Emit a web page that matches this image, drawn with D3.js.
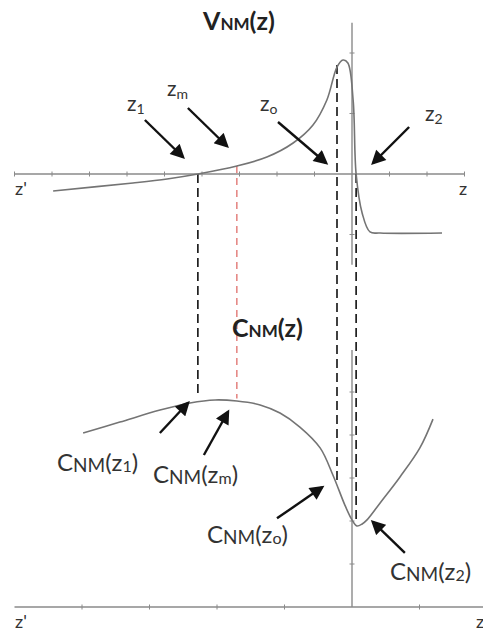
<!DOCTYPE html>
<html>
<head>
<meta charset="utf-8">
<script src="https://cdn.jsdelivr.net/npm/d3@7"></script>
<style>
  html, body { margin: 0; padding: 0; background: #fff; }
  svg { display: block; }
  text { font-family: Lato, "Open Sans", "Liberation Sans", sans-serif; }
</style>
</head>
<body>
<svg id="chart" width="483" height="633"></svg>
<script>
// Potential V_NM(z) along the z axis (upper panel)
const vZ   = [-7.97, -5.84, -4.93, -4.11, -3.07, -2.27, -1.57, -1.04, -0.67, -0.40, -0.24, -0.11, 0.03, 0.11, 0.27, 0.48, 0.75, 2.40];
const vVal = [-1.40, -0.74, -0.41, 0.00, 0.66, 1.40, 2.56, 4.05, 6.12, 8.84, 9.42, 9.17, 6.12, 0.00, -3.22, -4.79, -4.88, -4.88];

// Concentration C_NM(z) along the z axis (lower panel)
const cZ   = [-7.17, -6.19, -5.12, -4.32, -3.65, -3.07, -2.45, -1.92, -1.39, -0.85, -0.51, -0.19, 0.00, 0.13, 0.27, 0.40, 0.75, 1.28, 1.81, 2.16];
const cVal = [8.09, 8.60, 9.16, 9.49, 9.63, 9.58, 9.40, 9.02, 8.37, 7.40, 6.14, 4.74, 4.05, 3.77, 3.86, 4.05, 4.84, 6.05, 7.40, 8.74];

// Characteristic positions z1, zm, zo, z2 and where their guides meet each curve
const markerNames = ["1", "m", "o", "2"];
const markerZ     = [-4.11, -3.07, -0.40, 0.11];
const markerVTop  = [0.00, 0.66, 9.00, 0.00];
const markerCBot  = [9.75, 9.70, 5.90, 4.05];

// Tick values
const topTicks    = [-9, -8, -7, -6, -5, -4, -3, -2, -1, 1, 2, 3];
const bottomTicks = [-7.2, -5.4, -3.6, -1.8, 1.8];
const vTicks      = [10, 5, -5];
const cTicks      = [2, 4, 6, 8, 10];

const svg = d3.select("#chart");

const x  = d3.scaleLinear().domain([-9, 3]).range([14.5, 464.5]);
const yV = d3.scaleLinear().domain([0, 10]).range([174, 53]);
const yC = d3.scaleLinear().domain([0, 10]).range([607, 392]);

const axisColor = "#8a8a8a";
const curveColor = "#747474";

// Arrow head marker
svg.append("defs").append("marker")
  .attr("id", "head")
  .attr("viewBox", "0 0 10 10")
  .attr("refX", 8).attr("refY", 5)
  .attr("markerWidth", 6.5).attr("markerHeight", 6)
  .attr("markerUnits", "strokeWidth")
  .attr("orient", "auto")
  .append("path").attr("d", "M0,0 L10,5 L0,10 Z").attr("fill", "#111");

// ---- axes ----
const axes = svg.append("g").attr("stroke", axisColor).attr("stroke-width", 1.4);
// upper horizontal axis
axes.append("line").attr("x1", x(-9)).attr("x2", x(3)).attr("y1", yV(0)).attr("y2", yV(0));
axes.selectAll(".tt").data(topTicks).join("line")
  .attr("x1", d => x(d)).attr("x2", d => x(d))
  .attr("y1", yV(0) - 2.5).attr("y2", yV(0) + 2.5).attr("stroke-width", 1);
// lower horizontal axis
axes.append("line").attr("x1", x(-9)).attr("x2", 483).attr("y1", yC(0)).attr("y2", yC(0));
axes.selectAll(".bt").data(bottomTicks).join("line")
  .attr("x1", d => x(d)).attr("x2", d => x(d))
  .attr("y1", yC(0) - 2.5).attr("y2", yC(0) + 2.5).attr("stroke-width", 1);
// vertical axis, upper piece
axes.append("line").attr("x1", x(0)).attr("x2", x(0)).attr("y1", yV(12.5)).attr("y2", yV(-7.5));
axes.selectAll(".vt").data(vTicks).join("line")
  .attr("x1", x(0) - 2.5).attr("x2", x(0) + 2.5)
  .attr("y1", d => yV(d)).attr("y2", d => yV(d)).attr("stroke-width", 1);
// vertical axis, lower piece
axes.append("line").attr("x1", x(0)).attr("x2", x(0)).attr("y1", yC(11.95)).attr("y2", yC(0));
axes.selectAll(".ct").data(cTicks).join("line")
  .attr("x1", x(0) - 2.5).attr("x2", x(0) + 2.5)
  .attr("y1", d => yC(d)).attr("y2", d => yC(d)).attr("stroke-width", 1);

// ---- guides ----
const guides = svg.append("g").attr("fill", "none");
markerZ.forEach((z, i) => {
  const isM = markerNames[i] === "m";
  guides.append("line")
    .attr("x1", x(z)).attr("x2", x(z))
    .attr("y1", yV(markerVTop[i])).attr("y2", yC(markerCBot[i]))
    .attr("stroke", isM ? "#d9534f" : "#111")
    .attr("stroke-width", isM ? 1.1 : 1.6)
    .attr("stroke-dasharray", isM ? "7,5" : "9,5");
});

// ---- curves ----
const vLine = d3.line().x(d => x(d[0])).y(d => yV(d[1])).curve(d3.curveCatmullRom.alpha(0.5));
const cLine = d3.line().x(d => x(d[0])).y(d => yC(d[1])).curve(d3.curveCatmullRom.alpha(0.5));
svg.append("path").datum(d3.zip(vZ, vVal)).attr("d", vLine)
  .attr("fill", "none").attr("stroke", curveColor).attr("stroke-width", 1.6);
svg.append("path").datum(d3.zip(cZ, cVal)).attr("d", cLine)
  .attr("fill", "none").attr("stroke", curveColor).attr("stroke-width", 1.6);

// ---- arrows ----
// offsets (tail dx, dy, tip dx, dy) from each marked point
const topArrowOff = [[-53, -54, -15, -17], [-49, -58, -10, -20], [-59, -52, -11, -11], [53, -47, 17, -11]];
const botArrowOff = [[-38, 31, -10, 1], [-33, 54, -9, 11], [-60, 33, -15, 2], [48, 27, 16, -4]];
const cAt = z => {
  const i = d3.bisectLeft(cZ, z);
  if (i <= 0) return cVal[0];
  const t = (z - cZ[i - 1]) / (cZ[i] - cZ[i - 1]);
  return cVal[i - 1] + t * (cVal[i] - cVal[i - 1]);
};
const arrows = svg.append("g").attr("stroke", "#111").attr("stroke-width", 2.4);
markerZ.forEach((z, i) => {
  const px = x(z);
  const pyTop = markerNames[i] === "m" ? yV(markerVTop[i]) : yV(0);
  const o = topArrowOff[i];
  arrows.append("line")
    .attr("x1", px + o[0]).attr("y1", pyTop + o[1])
    .attr("x2", px + o[2]).attr("y2", pyTop + o[3])
    .attr("marker-end", "url(#head)");
  const zc = markerNames[i] === "2" ? 0.13 : z;
  const pyBot = yC(cAt(zc));
  const b = botArrowOff[i];
  arrows.append("line")
    .attr("x1", x(zc) + b[0]).attr("y1", pyBot + b[1])
    .attr("x2", x(zc) + b[2]).attr("y2", pyBot + b[3])
    .attr("marker-end", "url(#head)");
});

// ---- text ----
const txt = svg.append("g").attr("fill", "#333");

function zLabel(xp, yp, sub) {
  const t = txt.append("text").attr("x", xp).attr("y", yp).attr("font-size", 21);
  t.append("tspan").text("z");
  t.append("tspan").attr("font-size", 14).attr("dy", 3).text(sub);
}
zLabel(127, 111, "1");
zLabel(167, 96, "m");
zLabel(260, 111, "o");
zLabel(425, 121, "2");

function cLabel(xp, yp, sub) {
  const t = txt.append("text").attr("x", xp).attr("y", yp).attr("font-size", 24);
  t.append("tspan").text("C");
  t.append("tspan").attr("font-size", 19).attr("dy", 1).text("NM");
  t.append("tspan").attr("font-size", 24).attr("dy", -1).text("(z");
  t.append("tspan").attr("font-size", 16).attr("dy", 1).text(sub);
  t.append("tspan").attr("font-size", 24).attr("dy", -1).text(")");
}
cLabel(57, 471, "1");
cLabel(153, 483, "m");
cLabel(207, 543, "o");
cLabel(390, 580, "2");

// axis end labels
txt.append("text").attr("x", 15).attr("y", 195).attr("font-size", 18).text("z'");
txt.append("text").attr("x", 459).attr("y", 195).attr("font-size", 18).text("z");
txt.append("text").attr("x", 15).attr("y", 628).attr("font-size", 18).text("z'");
txt.append("text").attr("x", 476).attr("y", 628).attr("font-size", 18).text("z");

// panel titles
const vt = svg.append("text").attr("x", 203).attr("y", 30).attr("font-size", 25)
  .attr("font-weight", "bold").attr("fill", "#222");
vt.append("tspan").text("V");
vt.append("tspan").attr("font-size", 17).text("NM");
vt.append("tspan").text("(z)");

const ct = svg.append("text").attr("x", 232).attr("y", 337).attr("font-size", 25)
  .attr("font-weight", "bold").attr("fill", "#222");
ct.append("tspan").text("C");
ct.append("tspan").attr("font-size", 17).text("NM");
ct.append("tspan").text("(z)");
</script>
</body>
</html>
